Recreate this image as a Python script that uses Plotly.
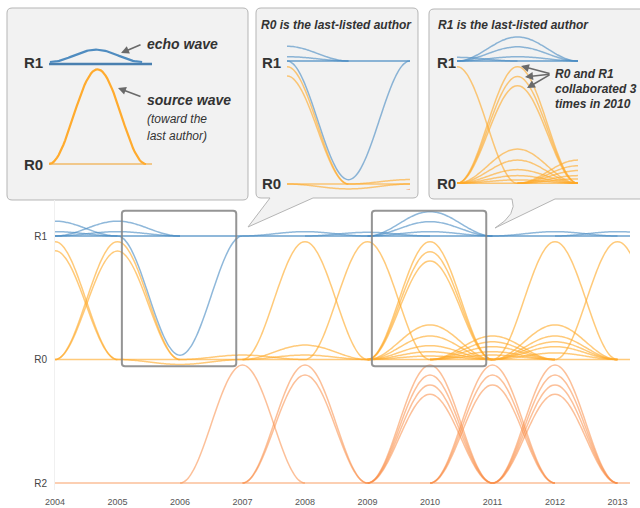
import numpy as np
import plotly.graph_objects as go

# ---------------- data ----------------
row_names = ["R2", "R0", "R1"]
row_pos = {"R2": 0, "R0": 1, "R1": 2}
years = list(range(2004, 2014))

# waves on each row: centre year and signed amplitude (fraction of row spacing)
r1_years = [2004, 2004, 2005, 2005, 2006, 2008, 2009, 2010, 2010, 2010, 2012, 2013]
r1_amps = [0.12, 0.035, 0.12, 0.035, -0.965, 0.035, 0.03, 0.197, 0.116, 0.035, 0.035, 0.035]

r0_years = [2004, 2004, 2005, 2005, 2006, 2007, 2008, 2008, 2008, 2009,
            2010, 2010, 2010, 2010, 2010, 2010, 2010, 2010,
            2011, 2011, 2011, 2011, 2011,
            2012, 2012, 2012, 2012, 2012, 2012, 2013]
r0_amps = [0.954, 0.881, 0.954, 0.878, -0.04, 0.036, 0.954, 0.117, 0.036, 0.954,
           0.954, 0.873, 0.798, 0.28, 0.19, 0.112, 0.063, 0.028,
           0.19, 0.144, 0.104, 0.063, 0.036,
           0.954, 0.28, 0.19, 0.144, 0.104, 0.053, 0.954]

r2_years = [2007, 2008, 2008, 2010, 2010, 2010, 2010, 2011, 2011, 2011, 2012, 2012, 2012, 2012]
r2_amps = [0.955, 0.955, 0.874, 0.955, 0.874, 0.794, 0.718, 0.955, 0.874, 0.794,
           0.955, 0.874, 0.794, 0.718]

# explanatory example: one source wave and its echo
demo_source_amp = 0.947
demo_echo_amp = 0.123

# zoom boxes (centre years)
zoom_centres = [2006, 2010]

colors = {
    "R1": "rgba(74,140,196,0.62)",
    "R0": "rgba(255,170,40,0.62)",
    "R2": "rgba(250,140,70,0.55)",
}

W, H = 640, 508


def px(x):
    return x / W


def py(y):
    return 1 - y / H


def wave(c, base, amp, n=61):
    x = np.linspace(c - 1, c + 1, n)
    y = base + amp * (1 + np.cos(np.pi * (x - c))) / 2
    return x, y


fig = go.Figure()

axes_sets = [("x", "y"), ("x2", "y2"), ("x3", "y3")]
wave_sets = [("R1", r1_years, r1_amps), ("R0", r0_years, r0_amps), ("R2", r2_years, r2_amps)]

for xa, ya in axes_sets:
    # baselines
    for r in ["R2", "R0", "R1"]:
        fig.add_trace(go.Scatter(
            x=[years[0], 2013.2], y=[row_pos[r], row_pos[r]], mode="lines",
            line=dict(color=colors[r], width=2.2 if r == "R1" else 1.6),
            xaxis=xa, yaxis=ya, hoverinfo="skip", showlegend=False))
    for r, ys, amps in wave_sets:
        for c, a in zip(ys, amps):
            x, y = wave(c, row_pos[r], a)
            fig.add_trace(go.Scatter(
                x=x, y=y, mode="lines",
                line=dict(color=colors[r], width=1.5, shape="spline"),
                xaxis=xa, yaxis=ya, hoverinfo="skip", showlegend=False))

# example panel
fig.add_trace(go.Scatter(x=[-1, 1.124], y=[1, 1], mode="lines",
                         line=dict(color="rgba(240,180,90,0.9)", width=1.4),
                         xaxis="x4", yaxis="y4", hoverinfo="skip", showlegend=False))
fig.add_trace(go.Scatter(x=[-1, 1.124], y=[2, 2], mode="lines",
                         line=dict(color="#4a80b0", width=2.6),
                         xaxis="x4", yaxis="y4", hoverinfo="skip", showlegend=False))
x, y = wave(0, 1, demo_source_amp)
fig.add_trace(go.Scatter(x=x, y=y, mode="lines", line=dict(color="#ffab2e", width=2.2),
                         xaxis="x4", yaxis="y4", hoverinfo="skip", showlegend=False))
x, y = wave(0, 2.02, demo_echo_amp)
fig.add_trace(go.Scatter(x=x * 0.95 - 0.03, y=y, mode="lines", line=dict(color="#4f8cc0", width=2.2),
                         xaxis="x4", yaxis="y4", hoverinfo="skip", showlegend=False))

hidden = dict(visible=False, showgrid=False, zeroline=False, fixedrange=True)

fig.update_layout(
    width=W, height=H,
    margin=dict(l=0, r=0, t=0, b=0),
    paper_bgcolor="white", plot_bgcolor="rgba(0,0,0,0)",
    font=dict(family="Arial, Liberation Sans, sans-serif", color="#333"),
    xaxis=dict(domain=[px(55), px(630)], range=[2004, 2013.2], tickvals=years,
               ticktext=[str(v) for v in years], showgrid=False, zeroline=False,
               ticks="outside", ticklen=3, tickcolor="rgba(0,0,0,0)",
               tickfont=dict(size=9, color="#555"), automargin=False, anchor="y"),
    yaxis=dict(domain=[py(490), py(200)], range=[-0.0567, 2.2915], tickvals=[0, 1, 2],
               ticktext=row_names, showgrid=False, zeroline=False,
               showline=True, linecolor="#f0f0f0", linewidth=1,
               ticks="outside", ticklen=5, tickcolor="rgba(0,0,0,0)",
               tickfont=dict(size=10, color="#444"), automargin=False, anchor="x"),
    xaxis2=dict(domain=[px(287), px(410)], range=[2005, 2007], anchor="y2", **hidden),
    yaxis2=dict(domain=[py(190), py(40)], range=[0.9512, 2.1707], anchor="x2", **hidden),
    xaxis3=dict(domain=[px(457), px(578)], range=[2009, 2011], anchor="y3", **hidden),
    yaxis3=dict(domain=[py(186), py(30)], range=[0.9780, 2.2535], anchor="x3", **hidden),
    xaxis4=dict(domain=[px(49), px(152)], range=[-1, 1.124], anchor="y4", **hidden),
    yaxis4=dict(domain=[py(175), py(40)], range=[0.89, 2.24], anchor="x4", **hidden),
)


def P(x, y):
    return f"{px(x):.5f},{py(y):.5f}"


def panel_path(x0, y0, x1, y1, r, pointer=None, curvy=False):
    s = f"M {P(x0 + r, y0)} L {P(x1 - r, y0)} Q {P(x1, y0)} {P(x1, y0 + r)} "
    s += f"L {P(x1, y1 - r)} Q {P(x1, y1)} {P(x1 - r, y1)} "
    if pointer:
        bl, tx, ty, br = pointer
        s += f"L {P(br, y1)} L {P(tx, ty)} "
        if curvy:
            s += f"Q {P(bl + 6, ty - 14)} {P(bl, y1)} "
        else:
            s += f"L {P(bl, y1)} "
    s += f"L {P(x0 + r, y1)} Q {P(x0, y1)} {P(x0, y1 - r)} L {P(x0, y0 + r)} Q {P(x0, y0)} {P(x0 + r, y0)} Z"
    return s


shapes = [
    dict(type="path", xref="paper", yref="paper", layer="below",
         path=panel_path(7, 8, 248, 200, 5), fillcolor="#f2f2f2",
         line=dict(color="#b5b5b5", width=1)),
    dict(type="path", xref="paper", yref="paper", layer="below",
         path=panel_path(256, 8, 418, 198, 5, pointer=(270, 248, 227, 313)), fillcolor="#f2f2f2",
         line=dict(color="#b5b5b5", width=1)),
    dict(type="path", xref="paper", yref="paper", layer="below",
         path=panel_path(429, 9, 645, 199, 5, pointer=(512, 495, 228, 555), curvy=True),
         fillcolor="#f2f2f2", line=dict(color="#b5b5b5", width=1)),
]

# zoom boxes on the main chart (data coordinates)
for c in zoom_centres:
    bx0, bx1, by0, by1 = c - 0.93, c + 0.9, 0.945, 2.205
    rx, ry = 0.05, 0.025
    path = (f"M {bx0 + rx},{by1} L {bx1 - rx},{by1} Q {bx1},{by1} {bx1},{by1 - ry} "
            f"L {bx1},{by0 + ry} Q {bx1},{by0} {bx1 - rx},{by0} L {bx0 + rx},{by0} "
            f"Q {bx0},{by0} {bx0},{by0 + ry} L {bx0},{by1 - ry} Q {bx0},{by1} {bx0 + rx},{by1} Z")
    shapes.append(dict(type="path", xref="x", yref="y", path=path,
                       line=dict(color="rgba(130,130,130,0.85)", width=2)))

fig.update_layout(shapes=shapes)

ann = []


def text(x, y, t, size=12, bold=True, italic=True, anchor="left"):
    s = t
    if bold:
        s = f"<b>{s}</b>"
    if italic:
        s = f"<i>{s}</i>"
    ann.append(dict(xref="paper", yref="paper", x=px(x), y=py(y), text=s, showarrow=False,
                    xanchor=anchor, yanchor="middle", font=dict(size=size, color="#333")))


def arrow(tx, ty, hx, hy):
    ann.append(dict(xref="paper", yref="paper", x=px(hx), y=py(hy), ax=tx - hx, ay=ty - hy,
                    text="", showarrow=True, arrowhead=2, arrowsize=1, arrowwidth=1.6,
                    arrowcolor="#6a6a6a"))


# row labels in panels
for cx in [33, 271, 446]:
    text(cx, 62, "R1", size=15, italic=False, anchor="center")
text(33, 164, "R0", size=15, italic=False, anchor="center")
text(271, 183, "R0", size=15, italic=False, anchor="center")
text(446, 183, "R0", size=15, italic=False, anchor="center")

text(145, 44, "echo wave", size=14)
text(145, 100, "source wave", size=14)
text(145, 119, "(toward the", size=12, bold=False)
text(145, 136, "last author)", size=12, bold=False)
arrow(142, 44, 121, 53)
arrow(142, 97, 118, 88)

text(336, 25, "R0 is the last-listed author", size=12, anchor="center")
text(436, 25, "R1 is the last-listed author", size=12)

text(553, 74, "R0 and R1", size=12)
text(553, 89, "collaborated 3", size=12)
text(553, 104, "times in 2010", size=12)
arrow(551, 74, 521, 66)
arrow(551, 74, 525, 77)
arrow(551, 74, 527, 88)

fig.update_layout(annotations=ann)

fig.write_html("out.html", config={"displayModeBar": False},
               post_script="document.body.style.margin='0px';document.body.style.overflow='hidden';")
